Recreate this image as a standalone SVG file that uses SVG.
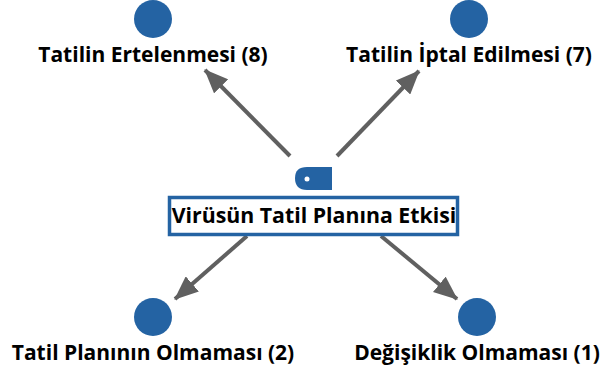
<svg xmlns="http://www.w3.org/2000/svg" width="603" height="376" viewBox="0 0 603 376">
<style>
.n{fill:#2463a3}
.t{font-family:"Open Sans","Noto Sans",sans-serif;font-weight:700;font-size:21px;fill:#000;text-anchor:middle}
.c{stroke:#606060;stroke-width:4;fill:none;marker-end:url(#a)}
</style>
<defs><marker id="a" markerUnits="userSpaceOnUse" markerWidth="24" markerHeight="20" refX="23" refY="10" orient="auto"><path d="M0 0L24 10L0 20z" fill="#606060"/></marker></defs>
<rect width="603" height="376" fill="#fff"/>
<g id="connectors">
<path class="c" d="M290 156L205 70"/>
<path class="c" d="M337 156L419 71"/>
<path class="c" d="M247 236L175 299"/>
<path class="c" d="M381 236L457 299"/>
</g>
<g id="n1"><circle class="n" cx="153" cy="19" r="19"/><text class="t" x="153" y="62">Tatilin Ertelenmesi (8)</text></g>
<g id="n2"><circle class="n" cx="469" cy="19" r="19"/><text class="t" x="469" y="62">Tatilin İptal Edilmesi (7)</text></g>
<g id="n3"><circle class="n" cx="153" cy="317" r="19"/><text class="t" x="153" y="360">Tatil Planının Olmaması (2)</text></g>
<g id="n4"><circle class="n" cx="477" cy="317" r="19"/><text class="t" x="477" y="360">Değişiklik Olmaması (1)</text></g>
<g id="center"><path class="n" d="M307 167H332V190H307Q295 190 295 178Q295 167 307 167z"/><circle cx="307" cy="179" r="2.5" fill="#fff"/><rect x="169.500" y="197.500" width="288" height="37" fill="#fff" stroke="#2463a3" stroke-width="3.500"/><text class="t" style="font-size:21.300px" x="314" y="223">Virüsün Tatil Planına Etkisi</text></g>
</svg>
